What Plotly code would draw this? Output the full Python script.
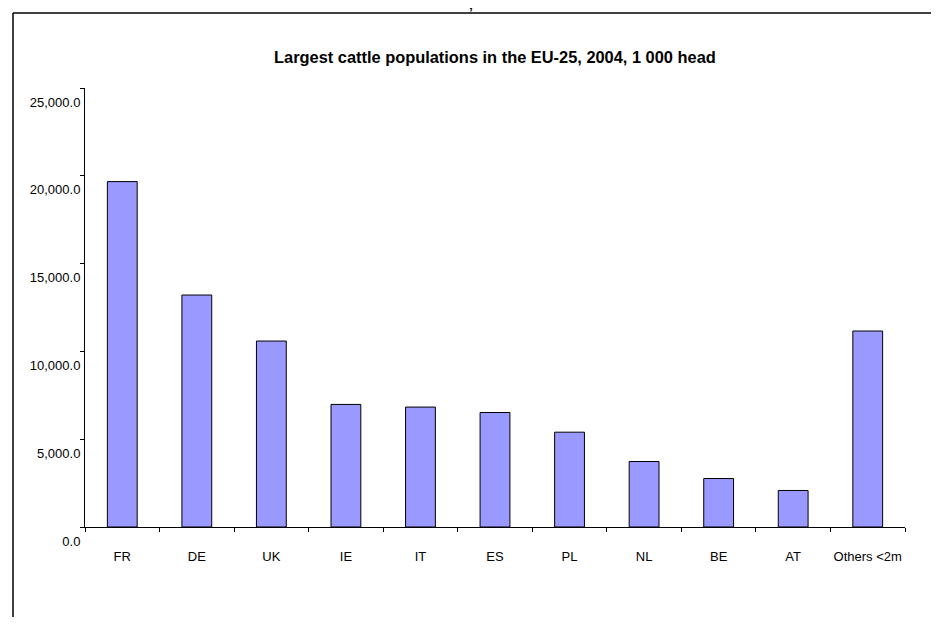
import plotly.graph_objects as go

categories = ["FR", "DE", "UK", "IE", "IT", "ES", "PL", "NL", "BE", "AT", "Others <2m"]
cattle_1000_head = [19670, 13210, 10590, 6980, 6830, 6520, 5400, 3730, 2760, 2080, 11160]
y_tick_values = [0, 5000, 10000, 15000, 20000, 25000]
y_tick_labels = ["0.0", "5,000.0", "10,000.0", "15,000.0", "20,000.0", "25,000.0"]
title_text = "Largest cattle populations in the EU-25, 2004, 1 000 head"

# page has an 8px body margin; figure pixel = page pixel - OFF
OFF = 8
W, H = 923, 609
L, T = 85 - OFF, 88 - OFF
R = W - (905 - OFF)
B = H - (527 - OFF)
pw, ph = W - L - R, H - T - B

def px_x(p):
    return (p - OFF - L) / pw

def px_y(p):
    return (H - B - (p - OFF)) / ph

fig = go.Figure(go.Bar(
    x=categories, y=cattle_1000_head,
    marker=dict(color="#9999FF", line=dict(color="#000000", width=1)),
    width=0.4,
))

fig.update_layout(
    width=W, height=H,
    margin=dict(l=L, r=R, t=T, b=B, autoexpand=False),
    paper_bgcolor="white", plot_bgcolor="white",
    showlegend=False,
    font=dict(family="Liberation Sans, Arial, sans-serif", size=13, color="#000000"),
    xaxis=dict(
        type="category", showline=True, linecolor="#000000", linewidth=1,
        ticks="outside", ticklen=4, tickcolor="#000000", tickson="boundaries",
        showgrid=False, zeroline=False, ticklabelstandoff=17, tickangle=0,
        tickfont=dict(size=13),
    ),
    yaxis=dict(
        range=[0, 25000], tickvals=y_tick_values, ticktext=y_tick_labels,
        showline=True, linecolor="#000000", linewidth=1,
        ticks="outside", ticklen=4, tickcolor="#000000",
        showgrid=False, zeroline=False, ticklabelshift=14, ticklabelstandoff=-3,
        tickfont=dict(size=13),
    ),
    shapes=[
        dict(type="line", xref="paper", yref="paper",
             x0=px_x(13), x1=px_x(13), y0=px_y(H + 40), y1=px_y(13),
             line=dict(color="#000000", width=1.5)),
        dict(type="line", xref="paper", yref="paper",
             x0=px_x(13), x1=px_x(W + 40), y0=px_y(13), y1=px_y(13),
             line=dict(color="#000000", width=1.5)),
    ],
    annotations=[
        dict(text="<b>" + title_text + "</b>", xref="paper", yref="paper",
             x=px_x(495), y=px_y(57), xanchor="center", yanchor="middle",
             showarrow=False, font=dict(size=16.4)),
        dict(text="<b>,</b>", xref="paper", yref="paper",
             x=px_x(471), y=px_y(14), xanchor="center", yanchor="bottom",
             showarrow=False, font=dict(size=14)),
    ],
)

fig.write_html("out.html")
